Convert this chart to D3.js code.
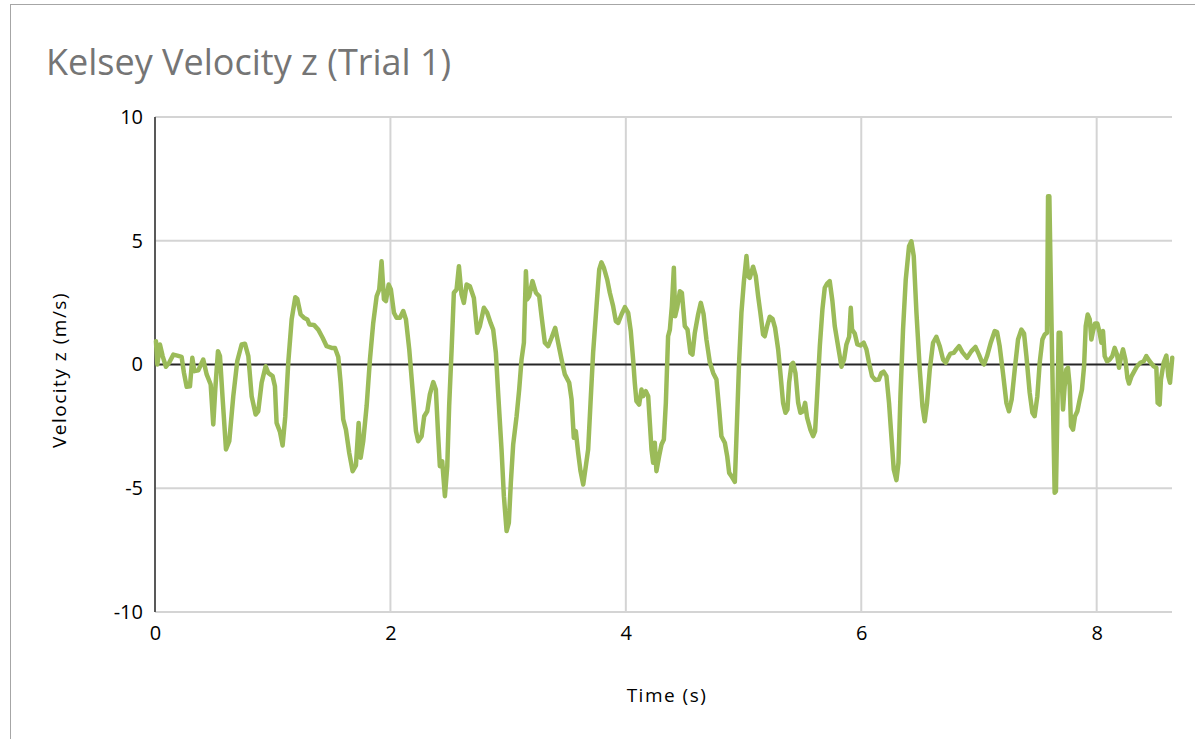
<!DOCTYPE html>
<html>
<head>
<meta charset="utf-8">
<script src="https://cdn.jsdelivr.net/npm/d3@7"></script>
<style>
	body { margin: 0; background: #ffffff; }
	svg { display: block; }
</style>
</head>
<body>
<div id="chart"></div>
<script>
// time (s)
let times = [
	0.008, 0.020, 0.042, 0.065, 0.093, 0.122, 0.156, 0.190, 0.226, 0.246,
	0.269, 0.297, 0.317, 0.334, 0.368, 0.410, 0.439, 0.473, 0.495, 0.512,
	0.535, 0.552, 0.575, 0.603, 0.631, 0.665, 0.699, 0.736, 0.764, 0.793,
	0.821, 0.855, 0.877, 0.906, 0.940, 0.962, 0.999, 1.019, 1.033, 1.062,
	1.084, 1.107, 1.132, 1.161, 1.192, 1.209, 1.237, 1.265, 1.294, 1.311,
	1.350, 1.387, 1.424, 1.458, 1.501, 1.529, 1.557, 1.577, 1.599, 1.622,
	1.650, 1.679, 1.707, 1.730, 1.747, 1.769, 1.798, 1.826, 1.854, 1.883,
	1.905, 1.925, 1.945, 1.962, 1.985, 2.004, 2.030, 2.052, 2.081, 2.109,
	2.132, 2.160, 2.188, 2.217, 2.236, 2.265, 2.287, 2.313, 2.335, 2.364,
	2.386, 2.406, 2.420, 2.440, 2.463, 2.483, 2.499, 2.520, 2.539, 2.562,
	2.582, 2.604, 2.624, 2.647, 2.675, 2.709, 2.737, 2.760, 2.794, 2.822,
	2.851, 2.873, 2.896, 2.915, 2.944, 2.964, 2.987, 3.006, 3.023, 3.043,
	3.072, 3.094, 3.114, 3.134, 3.151, 3.162, 3.179, 3.207, 3.236, 3.264,
	3.284, 3.312, 3.340, 3.369, 3.400, 3.425, 3.454, 3.482, 3.519, 3.539,
	3.558, 3.575, 3.595, 3.615, 3.638, 3.660, 3.680, 3.700, 3.722, 3.751,
	3.774, 3.793, 3.813, 3.842, 3.864, 3.892, 3.915, 3.935, 3.963, 3.992,
	4.020, 4.042, 4.062, 4.076, 4.090, 4.113, 4.133, 4.147, 4.170, 4.190,
	4.204, 4.218, 4.232, 4.246, 4.260, 4.283, 4.303, 4.323, 4.340, 4.359,
	4.374, 4.391, 4.408, 4.419, 4.436, 4.459, 4.476, 4.501, 4.524, 4.549,
	4.566, 4.586, 4.614, 4.637, 4.660, 4.685, 4.713, 4.742, 4.770, 4.793,
	4.812, 4.841, 4.861, 4.878, 4.897, 4.926, 4.940, 4.962, 4.982, 5.002,
	5.025, 5.039, 5.053, 5.081, 5.104, 5.124, 5.143, 5.166, 5.180, 5.200,
	5.223, 5.246, 5.268, 5.294, 5.313, 5.336, 5.356, 5.373, 5.387, 5.407,
	5.421, 5.441, 5.464, 5.483, 5.506, 5.523, 5.540, 5.568, 5.591, 5.608,
	5.625, 5.648, 5.670, 5.690, 5.710, 5.732, 5.755, 5.775, 5.803, 5.832,
	5.854, 5.874, 5.897, 5.911, 5.922, 5.945, 5.967, 5.993, 6.021, 6.044,
	6.066, 6.092, 6.120, 6.149, 6.171, 6.190, 6.214, 6.236, 6.256, 6.276,
	6.299, 6.316, 6.333, 6.355, 6.378, 6.406, 6.426, 6.446, 6.469, 6.497,
	6.520, 6.539, 6.559, 6.582, 6.610, 6.638, 6.667, 6.695, 6.718, 6.737,
	6.757, 6.786, 6.808, 6.831, 6.859, 6.899, 6.936, 6.970, 7.000, 7.023,
	7.043, 7.069, 7.100, 7.134, 7.154, 7.176, 7.204, 7.233, 7.255, 7.278,
	7.304, 7.332, 7.360, 7.383, 7.403, 7.431, 7.454, 7.473, 7.496, 7.516,
	7.539, 7.558, 7.578, 7.587, 7.598, 7.609, 7.621, 7.633, 7.643, 7.654,
	7.666, 7.677, 7.691, 7.703, 7.714, 7.728, 7.742, 7.756, 7.771, 7.782,
	7.799, 7.816, 7.836, 7.856, 7.875, 7.893, 7.907, 7.924, 7.941, 7.955,
	7.969, 7.986, 8.006, 8.025, 8.040, 8.054, 8.068, 8.088, 8.110, 8.133,
	8.153, 8.173, 8.190, 8.209, 8.224, 8.244, 8.261, 8.275, 8.297, 8.320,
	8.343, 8.371, 8.400, 8.422, 8.450, 8.484, 8.507, 8.518, 8.535, 8.546,
	8.569, 8.592, 8.609, 8.623, 8.642
];

// velocity z (m/s)
let velocities = [
	0.94, 0.00, 0.81, 0.34, -0.09, 0.09, 0.40, 0.36, 0.31, -0.34,
	-0.90, -0.88, 0.27, -0.27, -0.23, 0.20, -0.40, -0.81, -2.42, -1.01,
	0.54, 0.34, -1.41, -3.43, -3.10, -1.28, 0.14, 0.81, 0.84, 0.34,
	-1.28, -2.02, -1.89, -0.74, -0.07, -0.34, -0.47, -0.88, -2.36, -2.73,
	-3.27, -2.09, 0.07, 1.82, 2.72, 2.65, 2.02, 1.89, 1.82, 1.62,
	1.60, 1.41, 1.08, 0.74, 0.67, 0.67, 0.30, -0.74, -2.22, -2.63,
	-3.57, -4.31, -4.08, -2.36, -3.77, -3.10, -1.68, 0.20, 1.68, 2.76,
	3.03, 4.17, 2.63, 2.56, 3.23, 3.03, 2.09, 1.89, 1.89, 2.16,
	1.82, 0.61, -1.01, -2.69, -3.10, -2.90, -2.09, -1.89, -1.21, -0.71,
	-1.01, -2.90, -4.11, -3.91, -5.32, -4.11, -1.68, 0.61, 2.90, 3.03,
	3.97, 2.83, 2.49, 3.23, 3.16, 2.69, 1.28, 1.55, 2.29, 2.09,
	1.68, 1.41, 0.47, -1.14, -3.43, -5.32, -6.73, -6.40, -4.78, -3.23,
	-2.09, -1.01, 0.20, 0.88, 3.77, 2.63, 2.76, 3.37, 2.90, 2.76,
	1.95, 0.88, 0.74, 1.08, 1.48, 0.88, 0.20, -0.40, -0.74, -1.41,
	-2.96, -2.69, -3.57, -4.31, -4.85, -4.11, -3.43, -1.55, 0.47, 2.36,
	3.84, 4.13, 3.91, 3.43, 2.90, 2.36, 1.75, 1.68, 2.02, 2.32,
	2.09, 1.35, 0.20, -0.74, -1.48, -1.62, -1.01, -1.28, -1.08, -1.28,
	-2.36, -3.43, -3.97, -3.16, -4.31, -3.70, -3.23, -3.03, -1.55, 1.14,
	1.41, 2.36, 3.91, 1.95, 2.29, 2.96, 2.90, 1.55, 1.41, 0.47,
	0.40, 1.28, 2.02, 2.49, 2.05, 1.00, 0.10, -0.34, -0.61, -1.82,
	-2.90, -3.16, -3.70, -4.38, -4.51, -4.74, -2.90, 0.07, 2.09, 3.30,
	4.38, 3.57, 3.50, 3.95, 3.57, 2.76, 2.09, 1.21, 1.14, 1.55,
	1.93, 1.85, 1.48, 0.61, -0.34, -1.55, -1.95, -1.82, -0.74, 0.00,
	0.07, -0.34, -1.55, -1.95, -1.89, -1.55, -2.15, -2.63, -2.90, -2.69,
	-1.28, 0.74, 2.22, 3.10, 3.27, 3.37, 2.56, 1.55, 0.74, -0.09,
	0.20, 0.81, 1.12, 2.29, 1.41, 1.25, 0.81, 0.77, 0.88, 0.61,
	0.07, -0.47, -0.63, -0.61, -0.34, -0.29, -0.47, -1.55, -2.90, -4.24,
	-4.67, -3.97, -1.28, 1.41, 3.43, 4.78, 4.98, 4.38, 2.09, -0.20,
	-1.68, -2.29, -1.55, -0.20, 0.88, 1.12, 0.74, 0.20, 0.07, 0.27,
	0.44, 0.47, 0.61, 0.74, 0.50, 0.27, 0.54, 0.71, 0.40, 0.13,
	0.00, 0.34, 0.88, 1.35, 1.31, 0.74, -0.34, -1.55, -1.89, -1.41,
	-0.20, 1.01, 1.41, 1.25, 0.34, -1.14, -1.95, -2.09, -1.28, 0.07,
	1.01, 1.21, 1.28, 6.80, 6.80, 3.70, 0.47, -2.63, -5.18, -5.12,
	-1.95, 1.28, 1.28, -0.61, -1.82, -0.88, -0.20, -0.13, -0.88, -2.49,
	-2.63, -2.09, -1.89, -1.41, -1.01, -0.07, 1.55, 2.02, 1.82, 1.01,
	1.35, 1.66, 1.66, 1.28, 0.88, 1.35, 0.34, 0.13, 0.20, 0.34,
	0.67, 0.40, -0.13, 0.34, 0.61, 0.20, -0.54, -0.77, -0.47, -0.27,
	-0.07, 0.07, 0.13, 0.34, 0.13, -0.07, -0.13, -1.55, -1.62, -0.61,
	0.07, 0.36, -0.47, -0.74, 0.27
];

let xTicks = [0, 2, 4, 6, 8];
let yTicks = [-10, -5, 0, 5, 10];

let chartTitle = "Kelsey Velocity z (Trial 1)";
let xTitle = "Time (s)";
let yTitle = "Velocity z (m/s)";

const width = 1195;
const height = 739;
const plot = { left: 155, right: 1172, top: 117, bottom: 612 };
const font = "'Open Sans', 'Liberation Sans', sans-serif";

let svg = d3.select("#chart").append("svg")
	.attr("width", width)
	.attr("height", height);

// chart area border
svg.append("rect")
	.attr("x", 10.5)
	.attr("y", 4.5)
	.attr("width", 1300)
	.attr("height", 900)
	.attr("fill", "#ffffff")
	.attr("stroke", "#a6a6a6")
	.attr("stroke-width", 1);

let x = d3.scaleLinear().domain([0, 8.64]).range([plot.left, plot.right]);
let y = d3.scaleLinear().domain([-10, 10]).range([plot.bottom, plot.top]);

// gridlines
svg.append("g")
	.selectAll("line")
	.data(yTicks.filter(d => d !== 0))
	.enter()
	.append("line")
	.attr("x1", plot.left)
	.attr("x2", plot.right)
	.attr("y1", d => y(d))
	.attr("y2", d => y(d))
	.attr("stroke", "#d4d4d4")
	.attr("stroke-width", 2);

svg.append("g")
	.selectAll("line")
	.data(xTicks.filter(d => d !== 0))
	.enter()
	.append("line")
	.attr("x1", d => x(d))
	.attr("x2", d => x(d))
	.attr("y1", plot.top)
	.attr("y2", plot.bottom)
	.attr("stroke", "#d4d4d4")
	.attr("stroke-width", 2);

// axes (labels only, lines drawn by hand below)
let xAxis = svg.append("g")
	.attr("transform", "translate(0," + plot.bottom + ")")
	.call(d3.axisBottom(x).tickValues(xTicks).tickSize(0).tickPadding(14).tickFormat(d => String(d)));
let yAxis = svg.append("g")
	.attr("transform", "translate(" + plot.left + ",0)")
	.call(d3.axisLeft(y).tickValues(yTicks).tickSize(0).tickPadding(12).tickFormat(d => String(d)));
[xAxis, yAxis].forEach(a => {
	a.select(".domain").remove();
	a.selectAll("text")
		.attr("fill", "#000000")
		.style("font-family", font)
		.style("font-size", "20px");
});

// vertical axis line
svg.append("line")
	.attr("x1", plot.left)
	.attr("x2", plot.left)
	.attr("y1", plot.top)
	.attr("y2", plot.bottom)
	.attr("stroke", "#595959")
	.attr("stroke-width", 2);

// zero line
svg.append("line")
	.attr("x1", plot.left)
	.attr("x2", plot.right)
	.attr("y1", y(0))
	.attr("y2", y(0))
	.attr("stroke", "#262626")
	.attr("stroke-width", 2);

// data line
let points = times.map((t, i) => ({ t: t, v: velocities[i] }));
let line = d3.line()
	.x(d => x(d.t))
	.y(d => y(d.v));

svg.append("path")
	.datum(points)
	.attr("d", line)
	.attr("fill", "none")
	.attr("stroke", "#9bbb59")
	.attr("stroke-width", 4.5)
	.attr("stroke-linejoin", "round")
	.attr("stroke-linecap", "round");

// titles
svg.append("text")
	.attr("x", 46)
	.attr("y", 75)
	.attr("fill", "#757575")
	.style("font-family", font)
	.style("font-size", "36px")
	.text(chartTitle);

svg.append("text")
	.attr("x", 667)
	.attr("y", 702)
	.attr("text-anchor", "middle")
	.attr("fill", "#000000")
	.style("font-family", font)
	.style("font-size", "19px")
	.style("letter-spacing", "1.5px")
	.text(xTitle);

svg.append("text")
	.attr("transform", "translate(66,370) rotate(-90)")
	.attr("text-anchor", "middle")
	.attr("fill", "#000000")
	.style("font-family", font)
	.style("font-size", "19px")
	.style("letter-spacing", "1.5px")
	.text(yTitle);
</script>
</body>
</html>
